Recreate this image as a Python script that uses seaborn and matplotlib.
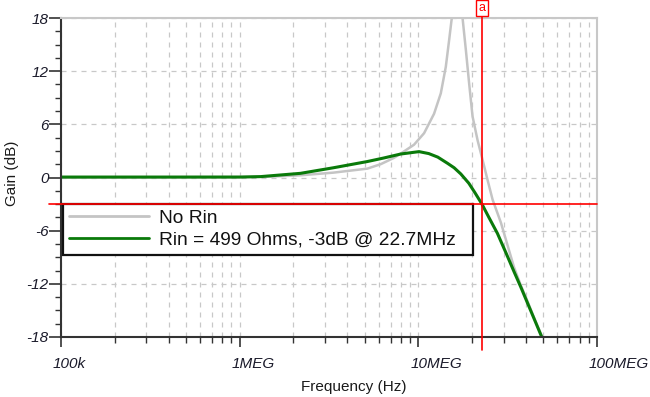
import matplotlib
matplotlib.use("Agg")
import matplotlib.pyplot as plt
import matplotlib.ticker as mticker
import matplotlib.transforms as mtrans
import seaborn as sns
import numpy as np
import pandas as pd

# values (frequency in Hz, gain in dB)
freq_norin = [1e5, 1e6, 1.5e6, 2.19e6, 3.35e6, 5.18e6, 6.15e6, 7.28e6, 7.97e6,
              9.46e6, 10.77e6, 12.25e6, 13.36e6, 14.25e6, 14.87e6, 15.39e6,
              16.53e6, 17.68e6, 18.45e6, 19.25e6, 20.11e6, 21.46e6, 22.88e6,
              24.42e6, 26.04e6, 28.99e6, 34.28e6, 37.52e6, 40.9e6, 44.38e6,
              48.6e6, 53.2e6]
gain_norin = [0.0, 0.05, 0.1, 0.25, 0.55, 1.0, 1.5, 2.2, 2.7,
              3.7, 5.0, 7.2, 9.5, 12.5, 15.5, 18.0,
              26.0, 18.0, 14.4, 10.6, 6.9, 4.2, 2.0,
              -0.3, -2.5, -5.1, -10.1, -12.2, -14.0, -15.8,
              -17.7, -19.5]

freq_rin = [1e5, 1e6, 1.31e6, 2.19e6, 3.35e6, 5.18e6, 6.4e6, 7.97e6, 10.09e6,
            11.44e6, 12.85e6, 14.57e6, 15.86e6, 17.29e6, 19.17e6, 20.72e6,
            22.7e6, 24.82e6, 27.7e6, 30.93e6, 34.28e6, 37.52e6, 40.9e6,
            44.38e6, 48.6e6, 51.8e6]
gain_rin = [0.05, 0.05, 0.1, 0.47, 1.1, 1.8, 2.2, 2.65, 2.92,
            2.7, 2.3, 1.6, 1.1, 0.4, -0.65, -1.7,
            -3.0, -4.5, -6.3, -8.5, -10.6, -12.4, -14.2,
            -15.9, -17.8, -19.2]

labels = ["No Rin", "Rin = 499 Ohms, -3dB @ 22.7MHz"]
cursor_f, cursor_db = 22.7e6, -3.0
xticks = [1e5, 1e6, 1e7, 1e8]
xtick_labels = ["100k", "1MEG", "10MEG", "100MEG"]
yticks = [-18, -12, -6, 0, 6, 12, 18]

df = pd.concat([
    pd.DataFrame({"f": freq_norin, "g": gain_norin, "s": labels[0]}),
    pd.DataFrame({"f": freq_rin, "g": gain_rin, "s": labels[1]}),
])

sns.set_theme(style="white")
plt.rcParams['font.family'] = ['Liberation Sans', 'DejaVu Sans']

fig = plt.figure(figsize=(6.5, 3.97), dpi=100)
ax = fig.add_axes([61/650, 1-337/397, 536/650, 319/397])

sns.lineplot(data=df, x="f", y="g", hue="s", sort=False, estimator=None,
             palette={labels[0]: "#c4c4c4", labels[1]: "#0a7a0a"},
             linewidth=2.0, ax=ax, legend=True)
ax.lines[0].set_linewidth(1.8)
ax.lines[1].set_linewidth(2.2)
for ln in ax.lines[:2]:
    ln.set_solid_joinstyle("round")

ax.set_xscale("log")
ax.set_xlim(1e5, 1e8)
ax.set_ylim(-18, 18)

ax.set_xticks(xticks)
ax.set_xticklabels(xtick_labels, style="italic", fontsize=11, color="#1a1a2a")
ax.xaxis.set_minor_locator(mticker.LogLocator(base=10, subs=np.arange(2, 10)))
ax.xaxis.set_minor_formatter(mticker.NullFormatter())
ax.set_yticks(yticks)
ax.set_yticklabels([str(v) for v in yticks], style="italic", fontsize=11, color="#1a1a2a")
ax.yaxis.set_minor_locator(mticker.MultipleLocator(1.5))

ax.tick_params(axis="y", which="major", direction="out", length=8.5, width=1.2,
               color="#333333", left=True, pad=0.5)
ax.tick_params(axis="x", which="major", direction="out", length=7.5, width=1.2,
               color="#333333", bottom=True, pad=7)
ax.tick_params(which="minor", direction="out", length=4.3, width=1.0, color="#333333",
               bottom=True, left=True)

ax.grid(True, which="both", axis="x", linestyle=(0, (4, 4)), color="#c8c8c8", linewidth=0.9)
ax.grid(True, which="major", axis="y", linestyle=(0, (4, 4)), color="#c8c8c8", linewidth=0.9)

for side in ["left", "bottom"]:
    ax.spines[side].set_color("#333333")
    ax.spines[side].set_linewidth(1.5)
for side in ["top", "right"]:
    ax.spines[side].set_color("#c8c8c8")
    ax.spines[side].set_linewidth(1.5)

ax.set_xlabel("Frequency (Hz)", fontsize=11, color="#1a1a1a")
ax.xaxis.set_label_coords(0.547, -0.135)
ax.xaxis.label.set_va("top")
ax.set_ylabel("Gain (dB)", fontsize=11, color="#1a1a1a")
ax.yaxis.set_label_coords(-0.078, 0.5125)

# cursor
ax.axvline(cursor_f, ymin=-0.04, ymax=1.02, color="red", linewidth=1.2, clip_on=False, zorder=5)
ax.axhline(cursor_db, xmin=-0.022, xmax=1.0, color="red", linewidth=1.2, clip_on=False, zorder=5)
trans = mtrans.blended_transform_factory(ax.transData, ax.transAxes)
ax.text(cursor_f, 1.032, "a", transform=trans, ha="center", va="center", color="red",
        fontsize=9, bbox=dict(boxstyle="square,pad=0.18", fc="white", ec="red", lw=1.0),
        zorder=6, clip_on=False)

leg = ax.legend(loc="upper left", bbox_to_anchor=(0.0037, 0.417, 410/536, 0.0),
                mode="expand", borderaxespad=0,
                fontsize=13.8, frameon=True, fancybox=False, framealpha=1,
                edgecolor="#111111", handlelength=4.17, handletextpad=0.52,
                borderpad=0.3, labelspacing=0.22, title=None)
leg.get_frame().set_linewidth(1.6)
leg.set_zorder(4)
for t in leg.get_texts():
    t.set_color("#111111")

# x labels start a little left of their tick, as in the reference
fig.canvas.draw()
shift = mtrans.ScaledTranslation(-8/100, 0, fig.dpi_scale_trans)
for tick in ax.xaxis.get_major_ticks():
    tick.label1.set_horizontalalignment("left")
    tick.label1.set_transform(tick.label1.get_transform() + shift)

fig.savefig("out.png", dpi=100)
